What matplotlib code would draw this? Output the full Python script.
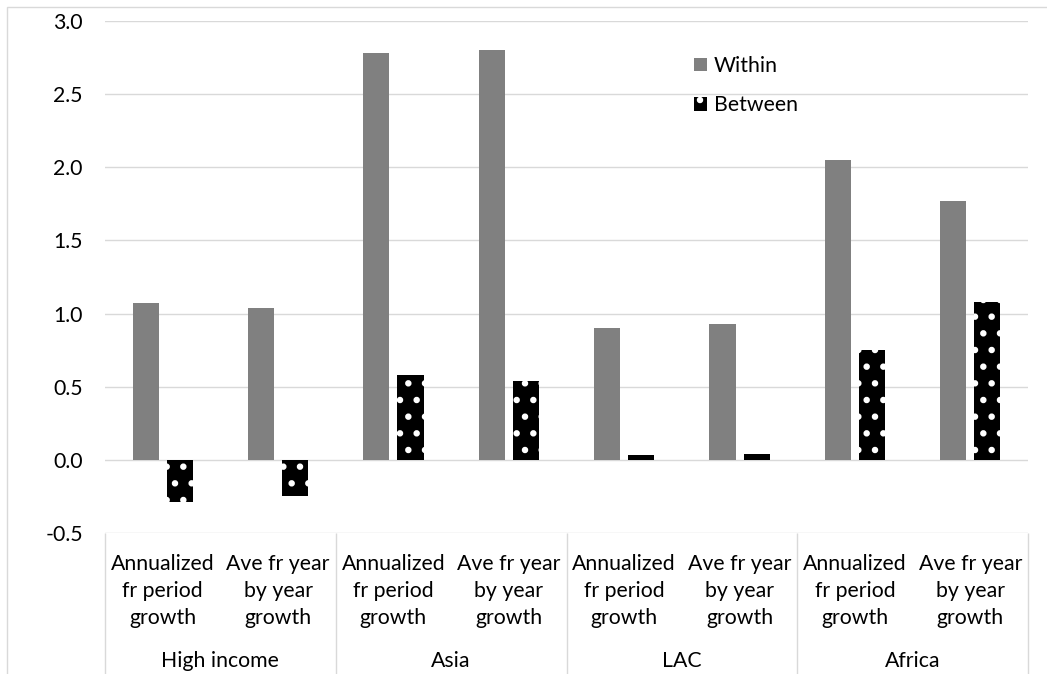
import matplotlib
matplotlib.use('Agg')
import matplotlib.pyplot as plt
import numpy as np

# values
groups = ['High income', 'Asia', 'LAC', 'Africa']
subcats = ['Annualized\nfr period\ngrowth', 'Ave fr year\nby year\ngrowth']
within = [1.07, 1.04, 2.78, 2.80, 0.90, 0.93, 2.05, 1.77]
between = [-0.29, -0.25, 0.58, 0.54, 0.03, 0.04, 0.75, 1.08]
yticks = [-0.5, 0.0, 0.5, 1.0, 1.5, 2.0, 2.5, 3.0]

plt.rcParams['font.family'] = ['Lato', 'DejaVu Sans']
plt.rcParams['hatch.color'] = 'white'
plt.rcParams['hatch.linewidth'] = 2.2

W, H = 1047, 674
fig = plt.figure(figsize=(W / 100, H / 100), dpi=100)
ax = fig.add_axes([105 / W, 1 - 533 / H, (1028 - 105) / W, (533 - 21) / H])

# chart area border (cut off at right/bottom like the reference)
fig.add_artist(plt.Rectangle((7 / W, -0.1), 1.2, 1 - 7 / H + 0.1,
                             transform=fig.transFigure, fill=False,
                             edgecolor='#d9d9d9', linewidth=1))

x = np.arange(len(within))
bw = 0.226
off = 0.148
ax.bar(x - off, within, width=bw, color='#808080', label='Within', zorder=2)
ax.bar(x + off, between, width=bw, color='black', hatch='.', label='Between', zorder=2)

ax.set_xlim(-0.5, len(within) - 0.5)
ax.set_ylim(-0.5, 3.0)
ax.set_yticks(yticks)
ax.set_yticklabels([f'{v:.1f}' for v in yticks])
ax.tick_params(axis='y', length=0, pad=16, labelsize=15.3)
ax.set_xticks([])
ax.yaxis.grid(True, color='#d9d9d9', linewidth=1)
ax.set_axisbelow(True)
for s in ax.spines.values():
    s.set_visible(False)

# category box below the plot
trans = ax.get_xaxis_transform()
ax_h = 533 - 21
seps = np.arange(-0.5, len(within), 2)
ax.vlines(seps, -0.4, 0, transform=trans, clip_on=False, color='#d9d9d9', linewidth=1)

for i in range(len(within)):
    lines = subcats[i % 2].split('\n')
    for k, ln in enumerate(lines):
        yb = 570 + 27 * k
        ax.text(i, -(yb - 533) / ax_h, ln, transform=trans, ha='center',
                va='baseline', fontsize=15.3)
for g, name in enumerate(groups):
    ax.text(2 * g + 0.5, -(667 - 533) / ax_h, name, transform=trans,
            ha='center', va='baseline', fontsize=15.3)

ax.legend(loc='upper left', bbox_to_anchor=(694 / W, 1 - 56 / H),
          bbox_transform=fig.transFigure, frameon=False, fontsize=15.3,
          handlelength=0.62, handleheight=0.62, handletextpad=0.3,
          labelspacing=0.9, borderpad=0, borderaxespad=0)

fig.savefig('out.png', dpi=100)
